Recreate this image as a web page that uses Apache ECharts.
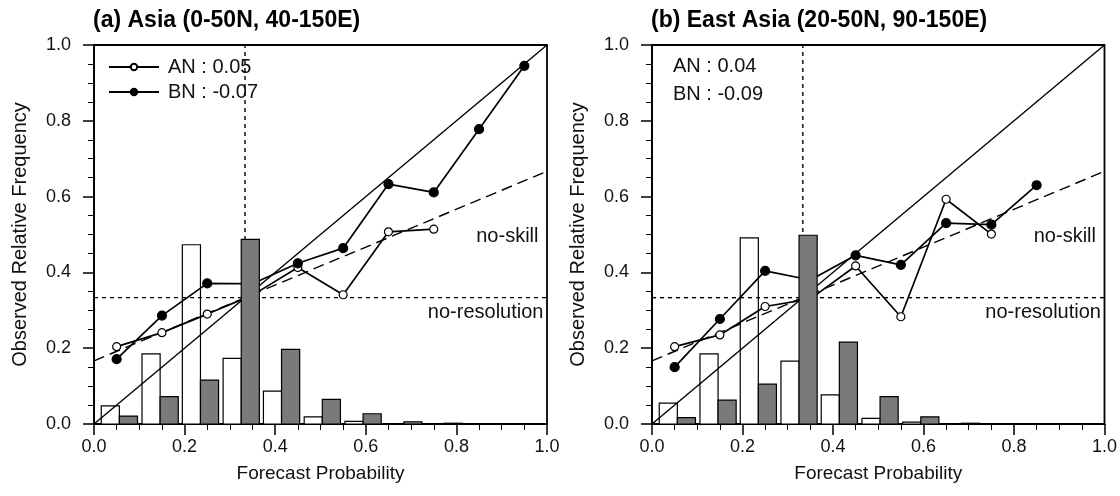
<!DOCTYPE html>
<html>
<head>
<meta charset="utf-8">
<script src="https://cdn.jsdelivr.net/npm/echarts@6/dist/echarts.min.js"></script>
<style>
  html, body { margin: 0; padding: 0; background: #fff; }
  #chart { width: 1120px; height: 496px; }
</style>
</head>
<body>
<div id="chart"></div>
<script>
var chart = echarts.init(document.getElementById('chart'));
var option;

// forecast probability bins (points) and bar positions (white | gray junction)
const probX = [0.05, 0.15, 0.25, 0.35, 0.45, 0.55, 0.65, 0.75, 0.85, 0.95];
const barPos = [0.056, 0.146, 0.235, 0.325, 0.414, 0.504, 0.594, 0.684, 0.773, 0.863];
const tickLabels = ['0.0', '0.2', '0.4', '0.6', '0.8', '1.0'];

// (a) Asia
const asiaAN = [0.204, 0.241, 0.290, 0.340, 0.413, 0.341, 0.507, 0.514];
const asiaBN = [0.171, 0.286, 0.371, 0.370, 0.424, 0.464, 0.633, 0.611, 0.778, 0.945];
const asiaFreqAN = [0.048, 0.185, 0.473, 0.173, 0.087, 0.019, 0.007, 0.001, 0, 0];
const asiaFreqBN = [0.021, 0.072, 0.116, 0.487, 0.197, 0.065, 0.027, 0.006, 0.002, 0];
const asiaBSS = { AN: '0.05', BN: '-0.07' };

// (b) East Asia
const eastAN = [0.204, 0.235, 0.310, 0.330, 0.417, 0.283, 0.593, 0.501];
const eastBN = [0.150, 0.277, 0.404, 0.380, 0.445, 0.420, 0.530, 0.526, 0.630];
const eastFreqAN = [0.055, 0.185, 0.491, 0.166, 0.077, 0.015, 0.005, 0.001, 0, 0];
const eastFreqBN = [0.017, 0.063, 0.105, 0.498, 0.216, 0.072, 0.019, 0.002, 0.001, 0];
const eastBSS = { AN: '0.04', BN: '-0.09' };

// reference lines
const climo = 1 / 3;
const perfect = [[0, 0], [1, 1]];
const noSkill = [[0, 0.1667], [1, 0.6667]];
const noResolution = [[0, climo], [1, climo]];
const climoProb = [[climo, 0], [climo, 1]];

const font = 'Liberation Sans, Arial, Helvetica, sans-serif';
const barW = 0.04;

function pairs(xs, ys) {
  return ys.map(function (y, i) { return [xs[i], y]; });
}

function barSeries(idx, freqs, side, fill) {
  return {
    type: 'custom',
    xAxisIndex: idx,
    yAxisIndex: idx,
    z: side === 'left' ? 1 : 4,
    data: pairs(barPos, freqs),
    encode: { x: 0, y: 1 },
    renderItem: function (params, api) {
      var p = api.value(0);
      var x0 = side === 'left' ? p - barW : p;
      var a = api.coord([x0, api.value(1)]);
      var b = api.coord([x0 + barW, 0]);
      return {
        type: 'rect',
        shape: { x: a[0], y: a[1], width: b[0] - a[0], height: b[1] - a[1] },
        style: { fill: fill, stroke: '#000', lineWidth: 1.2 }
      };
    }
  };
}

function refLine(idx, data, type) {
  return {
    type: 'line',
    xAxisIndex: idx,
    yAxisIndex: idx,
    z: 2,
    data: data,
    symbol: 'none',
    silent: true,
    lineStyle: { color: '#000', width: 1.4, type: type }
  };
}

function relLine(idx, name, ys, open) {
  return {
    type: 'line',
    name: name,
    xAxisIndex: idx,
    yAxisIndex: idx,
    z: 3,
    data: pairs(probX, ys),
    symbol: 'circle',
    symbolSize: open ? 8 : 9,
    lineStyle: { color: '#000', width: 1.7 },
    itemStyle: { color: open ? '#fff' : '#000', borderColor: '#000', borderWidth: 1.2 }
  };
}

function panel(idx, an, bn, freqAN, freqBN, suffix) {
  return [
    barSeries(idx, freqAN, 'left', '#fff'),
    refLine(idx, perfect, 'solid'),
    refLine(idx, noSkill, [11, 6]),
    refLine(idx, noResolution, [4, 4]),
    refLine(idx, climoProb, [4, 4]),
    relLine(idx, 'AN' + suffix, an, true),
    relLine(idx, 'BN' + suffix, bn, false),
    barSeries(idx, freqBN, 'right', '#7a7a7a')
  ];
}

function xAxis(idx) {
  return {
    type: 'value', gridIndex: idx, min: 0, max: 1, interval: 0.2,
    name: 'Forecast Probability', nameLocation: 'middle', nameGap: 40,
    nameTextStyle: { fontFamily: font, fontSize: 19, color: '#111' },
    axisLine: { lineStyle: { color: '#000', width: 1.8 } },
    axisTick: { length: 11, lineStyle: { color: '#000', width: 1.5 } },
    minorTick: { show: true, splitNumber: 4, length: 6, lineStyle: { color: '#000', width: 1 } },
    splitLine: { show: false },
    axisLabel: {
      fontFamily: font, fontSize: 18, color: '#111', margin: 14,
      formatter: function (v) { return tickLabels[Math.round(v * 5)]; }
    }
  };
}

function yAxis(idx) {
  return {
    type: 'value', gridIndex: idx, min: 0, max: 1, interval: 0.2,
    name: 'Observed Relative Frequency', nameLocation: 'middle', nameGap: 64,
    nameTextStyle: { fontFamily: font, fontSize: 20, color: '#111' },
    axisLine: { lineStyle: { color: '#000', width: 1.8 } },
    axisTick: { length: 11, lineStyle: { color: '#000', width: 1.5 } },
    minorTick: { show: true, splitNumber: 4, length: 6, lineStyle: { color: '#000', width: 1 } },
    splitLine: { show: false },
    axisLabel: {
      fontFamily: font, fontSize: 18, color: '#111', margin: 23,
      formatter: function (v) { return tickLabels[Math.round(v * 5)]; }
    }
  };
}

function label(text, x, y) {
  return {
    type: 'text', x: x, y: y, z: 10,
    style: { text: text, fontFamily: font, fontSize: 20, fill: '#111',
      align: 'right', verticalAlign: 'middle' }
  };
}

option = {
  animation: false,
  backgroundColor: '#fff',
  title: [
    { text: '(a) Asia (0-50N, 40-150E)', left: 88, top: 4,
      textStyle: { fontFamily: font, fontSize: 23, fontWeight: 'bold', color: '#000' } },
    { text: '(b) East Asia (20-50N, 90-150E)', left: 646, top: 4,
      textStyle: { fontFamily: font, fontSize: 23, fontWeight: 'bold', color: '#000' } },
    { text: 'AN : ' + eastBSS.AN + '\nBN : ' + eastBSS.BN, left: 668, top: 47,
      textStyle: { fontFamily: font, fontSize: 20, fontWeight: 'normal', color: '#111', lineHeight: 28 } }
  ],
  legend: {
    data: ['AN', 'BN'],
    orient: 'vertical',
    left: 103, top: 52,
    itemWidth: 50, itemHeight: 8, itemGap: 5,
    textStyle: { fontFamily: font, fontSize: 20, color: '#111', padding: [0, 0, 0, 4] },
    formatter: function (n) { return n + ' : ' + asiaBSS[n]; },
    selectedMode: false
  },
  grid: [
    { left: 94, top: 45, width: 453, height: 379, show: true, borderColor: '#000', borderWidth: 1.8 },
    { left: 652, top: 45, width: 454, height: 379, show: true, borderColor: '#000', borderWidth: 1.8 }
  ],
  xAxis: [xAxis(0), xAxis(1)],
  yAxis: [yAxis(0), yAxis(1)],
  series: panel(0, asiaAN, asiaBN, asiaFreqAN, asiaFreqBN, '')
    .concat(panel(1, eastAN, eastBN, eastFreqAN, eastFreqBN, ' (b)'))
};

option && chart.setOption(option);

// annotation labels anchored on the data coordinates of each grid
var annot = [];
[0, 1].forEach(function (g) {
  var s = chart.convertToPixel({ gridIndex: g }, [0.99, 0.495]);
  var r = chart.convertToPixel({ gridIndex: g }, [0.99, 0.295]);
  annot.push(label('no-skill', s[0] - 4, s[1]));
  annot.push(label('no-resolution', r[0] + 1, r[1]));
});
chart.setOption({ graphic: annot });
</script>
</body>
</html>
